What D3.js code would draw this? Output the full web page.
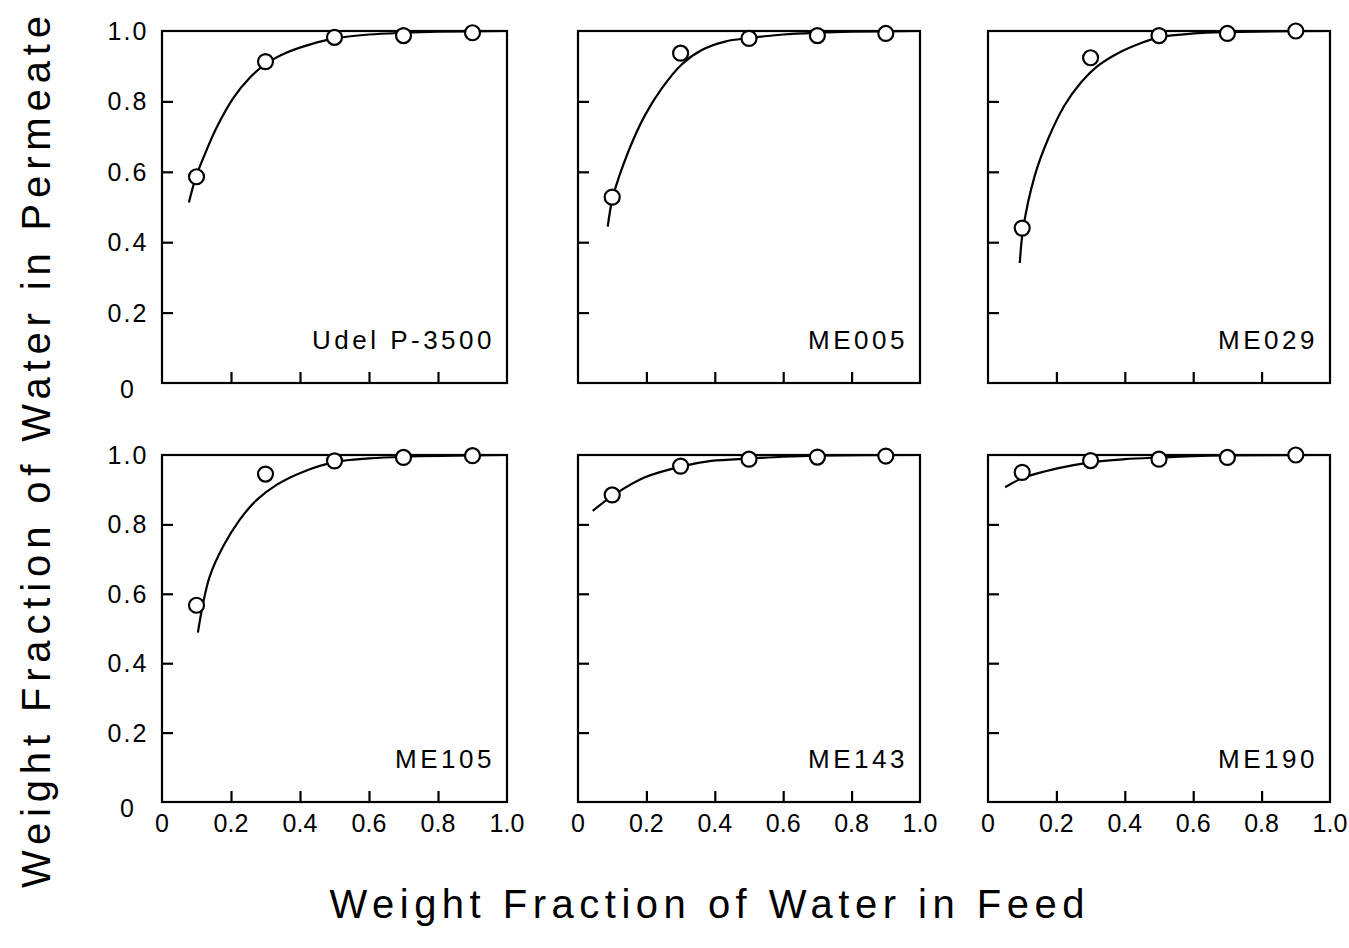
<!DOCTYPE html>
<html><head><meta charset="utf-8">
<script src="https://cdn.jsdelivr.net/npm/d3@7"></script>
<style>
body{margin:0;background:#fff}
svg{display:block}
text{font-family:"Liberation Sans",Arial,sans-serif;fill:#000}
</style>
</head><body>
<svg id="chart" width="1349" height="948"></svg>
<script>
// ---- data ----
const panelNames = ["Udel P-3500", "ME005", "ME029", "ME105", "ME143", "ME190"];
const feedFractions = [0.1, 0.3, 0.5, 0.7, 0.9];

const udelPoints  = [0.586, 0.913, 0.982, 0.987, 0.995];
const me005Points = [0.528, 0.937, 0.979, 0.987, 0.993];
const me029Points = [0.440, 0.924, 0.987, 0.993, 1.000];
const me105Points = [0.567, 0.945, 0.983, 0.993, 0.998];
const me143Points = [0.885, 0.968, 0.988, 0.994, 0.997];
const me190Points = [0.950, 0.984, 0.988, 0.993, 1.000];

const udelCurve  = [[0.078,0.513],[0.098,0.584],[0.12,0.640],[0.158,0.725],[0.207,0.810],[0.255,0.868],[0.30,0.906],[0.36,0.938],[0.43,0.962],[0.50,0.979],[0.60,0.990],[0.70,0.995],[0.80,0.998],[1.0,1.0]];
const me005Curve = [[0.087,0.444],[0.102,0.528],[0.147,0.657],[0.196,0.761],[0.245,0.837],[0.303,0.905],[0.362,0.946],[0.43,0.970],[0.50,0.980],[0.60,0.990],[0.70,0.995],[0.80,0.998],[1.0,1.0]];
const me029Curve = [[0.093,0.341],[0.103,0.44],[0.137,0.59],[0.176,0.694],[0.224,0.789],[0.273,0.855],[0.32,0.900],[0.38,0.937],[0.448,0.966],[0.50,0.982],[0.60,0.993],[0.70,0.997],[1.0,1.0]];
const me105Curve = [[0.104,0.488],[0.118,0.567],[0.138,0.649],[0.177,0.736],[0.225,0.813],[0.274,0.870],[0.332,0.914],[0.41,0.952],[0.504,0.980],[0.60,0.990],[0.70,0.995],[1.0,1.0]];
const me143Curve = [[0.043,0.839],[0.105,0.885],[0.194,0.935],[0.307,0.968],[0.39,0.983],[0.505,0.990],[0.60,0.995],[0.70,0.998],[1.0,1.0]];
const me190Curve = [[0.05,0.907],[0.10,0.933],[0.206,0.962],[0.30,0.979],[0.40,0.988],[0.50,0.993],[0.60,0.997],[0.70,0.999],[1.0,1.0]];

const xTickValues = [0, 0.2, 0.4, 0.6, 0.8, 1.0];
const xTickLabels = ["0", "0.2", "0.4", "0.6", "0.8", "1.0"];
const yTickValues = [0, 0.2, 0.4, 0.6, 0.8, 1.0];
const yTickLabels = ["0", "0.2", "0.4", "0.6", "0.8", "1.0"];

const xTitle = "Weight Fraction of Water in Feed";
const yTitle = "Weight Fraction of Water in Permeate";

const pointSets = [udelPoints, me005Points, me029Points, me105Points, me143Points, me190Points];
const curveSets = [udelCurve, me005Curve, me029Curve, me105Curve, me143Curve, me190Curve];

// ---- layout ----
const colLeft = [162, 578, 988];
const colWidth = [345, 342, 342];
const rowTop = [31, 455];
const rowHeight = [352, 347];
const tickLen = 11;

const svg = d3.select("#chart");

panelNames.forEach((name, i) => {
  const r = Math.floor(i / 3), c = i % 3;
  const x0 = colLeft[c], w = colWidth[c], y0 = rowTop[r], h = rowHeight[r];
  const x = d3.scaleLinear().domain([0, 1]).range([x0, x0 + w]);
  const y = d3.scaleLinear().domain([0, 1]).range([y0 + h, y0]);
  const g = svg.append("g");

  // inward ticks via axes
  const yAxis = d3.axisLeft(y).tickValues(yTickValues.filter(v => v > 0 && v < 1)).tickSize(-tickLen).tickFormat("");
  g.append("g").attr("transform", `translate(${x0},0)`).call(yAxis)
    .call(a => a.select(".domain").remove())
    .selectAll("line").attr("stroke", "#000").attr("stroke-width", 2.2);
  const xAxis = d3.axisBottom(x).tickValues(xTickValues.filter(v => v > 0 && v < 1)).tickSize(-tickLen).tickFormat("");
  g.append("g").attr("transform", `translate(0,${y0 + h})`).call(xAxis)
    .call(a => a.select(".domain").remove())
    .selectAll("line").attr("stroke", "#000").attr("stroke-width", 2.2);

  // frame
  g.append("rect").attr("x", x0).attr("y", y0).attr("width", w).attr("height", h)
    .attr("fill", "none").attr("stroke", "#000").attr("stroke-width", 2.2);

  // tick labels
  if (c === 0) {
    g.selectAll(".ylab").data(yTickValues).enter().append("text")
      .attr("x", 128).attr("y", (d) => y(d) + (d === 0 ? 6 : 0))
      .attr("dy", "0.36em").attr("text-anchor", "middle")
      .attr("font-size", 25).attr("letter-spacing", 2)
      .text((d, k) => yTickLabels[k]);
  }
  if (r === 1) {
    g.selectAll(".xlab").data(xTickValues).enter().append("text")
      .attr("x", d => x(d)).attr("y", y0 + h + 30)
      .attr("text-anchor", "middle").attr("font-size", 25)
      .text((d, k) => xTickLabels[k]);
  }

  // curve
  const line = d3.line().x(d => x(d[0])).y(d => y(d[1])).curve(d3.curveCatmullRom.alpha(0.5));
  g.append("path").datum(curveSets[i]).attr("d", line)
    .attr("fill", "none").attr("stroke", "#000").attr("stroke-width", 2.2);

  // points
  g.selectAll("circle").data(pointSets[i]).enter().append("circle")
    .attr("cx", (d, k) => x(feedFractions[k])).attr("cy", d => y(d)).attr("r", 7.5)
    .attr("fill", "#fff").attr("stroke", "#000").attr("stroke-width", 2.2);

  // panel label
  g.append("text").attr("x", x0 + w - 12).attr("y", y0 + h - 34)
    .attr("text-anchor", "end").attr("font-size", 26).attr("letter-spacing", 3.5)
    .text(name);
});

// axis titles
svg.append("text").attr("x", 707).attr("y", 918).attr("text-anchor", "middle")
  .attr("font-size", 40).attr("textLength", 755).attr("lengthAdjust", "spacing")
  .text(xTitle);
svg.append("text").attr("transform", "translate(50,452) rotate(-90)").attr("text-anchor", "middle")
  .attr("font-size", 40).attr("textLength", 872).attr("lengthAdjust", "spacing")
  .text(yTitle);
</script>
</body></html>
